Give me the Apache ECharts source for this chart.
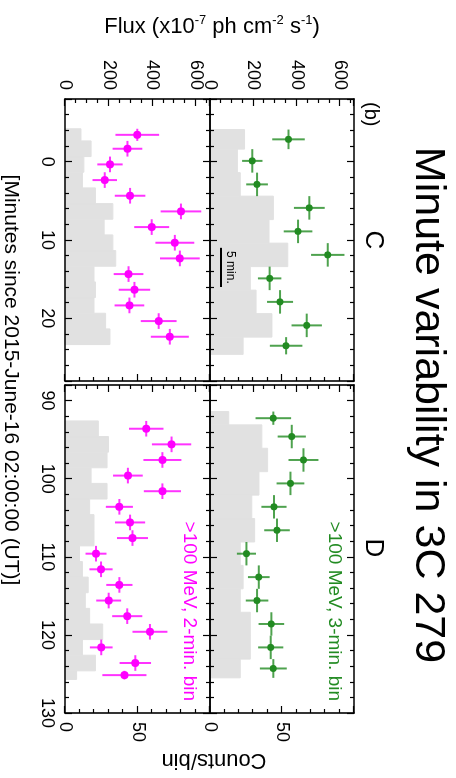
<!DOCTYPE html>
<html><head><meta charset="utf-8">
<script src="https://cdn.jsdelivr.net/npm/echarts@6/dist/echarts.min.js"></script>
<style>
html,body{margin:0;padding:0;background:#fff;overflow:hidden;width:456px;height:778px}
#wrap{position:absolute;left:0;top:0;width:778px;height:456px;transform-origin:0 0;transform:translate(456px,0) rotate(90deg)}
#chart{width:778px;height:456px;background:#fff}
</style></head>
<body><div id="wrap"><div id="chart"></div></div>
<script>
// ---------------- data ----------------
// Panel C, >100 MeV, 3-min bins (green): bin edges [min], counts/bin, flux, flux error
const greenC_edges = [-4.1, -1.6, 1.4, 4.4, 7.4, 10.4, 13.4, 16.4, 19.4, 22.4, 24.6];
const greenC_counts = [24, 19, 21, 44, 41, 54, 28, 32, 43, 23];
const greenC_flux = [362, 195, 217, 458, 406, 543, 275, 323, 446, 351];
const greenC_fluxErr = [75, 47, 50, 71, 66, 77, 54, 60, 70, 75];
// Panel D, 3-min bins (green)
const greenD_edges = [91.4, 93.1, 96.1, 99.1, 102.1, 105.1, 108.1, 111.1, 114.1, 117.1, 120.1, 123.1, 125.5];
const greenD_counts = [13, 36, 40, 34, 29, 31, 21, 23, 21, 28, 28, 21];
const greenD_flux = [292, 377, 431, 371, 295, 309, 168, 225, 217, 283, 280, 292];
const greenD_fluxErr = [82, 65, 69, 64, 58, 59, 44, 50, 52, 59, 58, 62];
// Panel C, 2-min bins (magenta)
const magC_edges = [-4.2, -2.65, -0.65, 1.35, 3.35, 5.35, 7.35, 9.35, 11.35, 13.35, 15.35, 17.35, 19.35, 21.35, 23.35];
const magC_counts = [11, 18, 13, 12, 21, 33, 27, 33, 35, 20, 21, 20, 28, 31];
const magC_flux = [331, 286, 206, 182, 298, 531, 397, 503, 526, 291, 318, 295, 429, 480];
const magC_fluxErr = [100, 68, 58, 56, 70, 93, 80, 89, 91, 68, 72, 68, 82, 87];
// Panel D, 2-min bins (magenta)
const magD_edges = [92.6, 94.6, 96.6, 98.6, 100.6, 102.6, 104.6, 106.6, 108.6, 110.6, 112.6, 114.6, 116.6, 118.6, 120.6, 122.6, 124.6, 125.7];
const magD_counts = [23, 30, 29, 18, 29, 17, 20, 20, 10, 12, 16, 14, 17, 26, 12, 21, 8];
const magD_flux = [372, 488, 446, 288, 446, 249, 298, 309, 142, 165, 249, 200, 285, 389, 166, 322, 272];
const magD_fluxErr = [79, 90, 87, 68, 85, 62, 69, 71, 48, 53, 60, 57, 69, 80, 52, 72, 101];

// axes ranges and tick labels
const rangeC = [-8, 28];
const rangeD = [88, 130];
const fluxRange = [0, 664];
const countsRange = [0, 100];
const timeLabels = [0, 10, 20, 90, 100, 110, 120, 130];
const fluxLabels = [0, 200, 400, 600];
const countLabels = [0, 50];
const scaleBar = [[11, 8], [16, 8]]; // "5 min." bar (minutes, counts)

// ---------------- styling ----------------
const FONT = '"Liberation Sans", Arial, Helvetica, sans-serif';
const GREEN = '#228b22';
const MAGENTA = '#ff00ff';
const GRAY = '#e1e1e1';

function bins(edges, counts) { return counts.map((c, i) => [edges[i], edges[i + 1], c]); }
function points(edges, flux, err) {
  return flux.map((f, i) => [(edges[i] + edges[i + 1]) / 2, f, (edges[i + 1] - edges[i]) / 2, err[i]]);
}

const grids = [
  { left: 99, top: 102, width: 282, height: 144 },   // green C
  { left: 385, top: 102, width: 328, height: 144 },  // green D
  { left: 99, top: 246, width: 282, height: 145 },   // magenta C
  { left: 385, top: 246, width: 328, height: 145 }   // magenta D
].map(g => Object.assign({ containLabel: false, outerBoundsMode: 'none' }, g));

const axisLine = { show: true, onZero: false, lineStyle: { color: '#000', width: 1.6 } };
function xAx(grid, range, pos, labels) {
  return {
    type: 'value', gridIndex: grid, position: pos, min: range[0], max: range[1],
    minInterval: 10, maxInterval: 10, z: 10,
    axisLine: axisLine,
    axisTick: { show: true, inside: true, length: 7, lineStyle: { color: '#000', width: 1.2 } },
    minorTick: { show: true, splitNumber: 5, length: 4, lineStyle: { color: '#000', width: 1.2 } },
    splitLine: { show: false },
    axisLabel: {
      show: labels, margin: 9, color: '#000', fontSize: 18, fontFamily: FONT,
      formatter: v => (timeLabels.indexOf(v) >= 0 ? String(v) : '')
    }
  };
}
function fluxAx(grid, labels) {
  return {
    type: 'value', gridIndex: grid, position: 'left', min: fluxRange[0], max: fluxRange[1],
    minInterval: 200, maxInterval: 200, z: 10,
    axisLine: axisLine,
    axisTick: { show: true, inside: true, length: 7, lineStyle: { color: '#000', width: 1.2 } },
    minorTick: { show: true, splitNumber: 4, length: 4, lineStyle: { color: '#000', width: 1.2 } },
    splitLine: { show: false },
    axisLabel: {
      show: labels, margin: 9, color: '#000', fontSize: 18, fontFamily: FONT,
      formatter: v => (fluxLabels.indexOf(v) >= 0 ? String(v) : '')
    }
  };
}
function countAx(grid, labels) {
  return {
    type: 'value', gridIndex: grid, position: 'right', min: countsRange[0], max: countsRange[1],
    interval: 50, z: 10,
    axisLine: axisLine,
    axisTick: { show: true, inside: true, length: 7, lineStyle: { color: '#000', width: 1.2 } },
    minorTick: { show: true, splitNumber: 5, length: 4, lineStyle: { color: '#000', width: 1.2 } },
    splitLine: { show: false },
    axisLabel: {
      show: labels, margin: 9, color: '#000', fontSize: 18, fontFamily: FONT,
      formatter: v => (countLabels.indexOf(v) >= 0 ? String(v) : '')
    }
  };
}

const xAxes = [
  xAx(0, rangeC, 'bottom', false), xAx(0, rangeC, 'top', false),
  xAx(1, rangeD, 'bottom', false), xAx(1, rangeD, 'top', false),
  xAx(2, rangeC, 'bottom', true), xAx(2, rangeC, 'top', false),
  xAx(3, rangeD, 'bottom', true), xAx(3, rangeD, 'top', false)
];
const yAxes = [
  fluxAx(0, true), countAx(0, false),
  fluxAx(1, false), countAx(1, true),
  fluxAx(2, true), countAx(2, false),
  fluxAx(3, false), countAx(3, true)
];

function histSeries(p, edges, counts, extra) {
  return Object.assign({
    type: 'custom', xAxisIndex: 2 * p, yAxisIndex: 2 * p + 1, z: 1,
    data: bins(edges, counts),
    encode: { x: [0, 1], y: 2 },
    renderItem: function (params, api) {
      const a = api.coord([api.value(0), api.value(2)]);
      const b = api.coord([api.value(1), 0]);
      return { type: 'rect', shape: { x: a[0], y: a[1], width: b[0] - a[0], height: b[1] - a[1] },
               style: { fill: GRAY, stroke: GRAY, lineWidth: 1 } };
    }
  }, extra || {});
}
function errSeries(p, edges, flux, err, color) {
  return {
    type: 'custom', xAxisIndex: 2 * p, yAxisIndex: 2 * p, z: 3,
    data: points(edges, flux, err),
    encode: { x: 0, y: 1 },
    renderItem: function (params, api) {
      const t = api.value(0), f = api.value(1), dt = api.value(2), df = api.value(3);
      const a = api.coord([t - dt, f]), b = api.coord([t + dt, f]);
      const c = api.coord([t, f - df]), d = api.coord([t, f + df]);
      const st = { stroke: color, lineWidth: 2, opacity: 0.8 };
      return { type: 'group', children: [
        { type: 'line', shape: { x1: a[0], y1: a[1], x2: b[0], y2: b[1] }, style: st },
        { type: 'line', shape: { x1: c[0], y1: c[1], x2: d[0], y2: d[1] }, style: st }
      ] };
    }
  };
}
function dotSeries(p, edges, flux, err, color, size) {
  return {
    type: 'scatter', xAxisIndex: 2 * p, yAxisIndex: 2 * p, z: 4,
    data: points(edges, flux, err).map(d => [d[0], d[1]]),
    symbol: 'circle', symbolSize: size,
    itemStyle: { color: color, opacity: 1 }
  };
}

const series = [
  histSeries(0, greenC_edges, greenC_counts, {
    markLine: {
      silent: true, symbol: ['none', 'none'], animation: false,
      lineStyle: { color: '#000', width: 2, type: 'solid' },
      label: { show: true, position: 'middle', formatter: '5 min.', color: '#000', fontSize: 12, fontFamily: FONT, distance: 3 },
      data: [[{ coord: scaleBar[0] }, { coord: scaleBar[1] }]]
    }
  }),
  histSeries(1, greenD_edges, greenD_counts),
  histSeries(2, magC_edges, magC_counts),
  histSeries(3, magD_edges, magD_counts),
  errSeries(0, greenC_edges, greenC_flux, greenC_fluxErr, GREEN),
  errSeries(1, greenD_edges, greenD_flux, greenD_fluxErr, GREEN),
  errSeries(2, magC_edges, magC_flux, magC_fluxErr, MAGENTA),
  errSeries(3, magD_edges, magD_flux, magD_fluxErr, MAGENTA),
  dotSeries(0, greenC_edges, greenC_flux, greenC_fluxErr, GREEN, 7),
  dotSeries(1, greenD_edges, greenD_flux, greenD_fluxErr, GREEN, 7),
  dotSeries(2, magC_edges, magC_flux, magC_fluxErr, MAGENTA, 8),
  dotSeries(3, magD_edges, magD_flux, magD_fluxErr, MAGENTA, 8)
];

function txt(x, y, text, size, color, align, vAlign, rot, rich) {
  const st = { text: text, fill: color, font: size + 'px ' + FONT, fontSize: size, fontFamily: FONT,
    textAlign: align, align: align, textVerticalAlign: vAlign, verticalAlign: vAlign };
  if (rich) st.rich = rich;
  return { type: 'text', x: x, y: y, rotation: rot || 0, z: 100, style: st };
}
const supRich = {
  a: { fontSize: 22, fontFamily: FONT, fill: '#000', color: '#000', lineHeight: 24, verticalAlign: 'bottom' },
  s: { fontSize: 13, fontFamily: FONT, fill: '#000', color: '#000', lineHeight: 24, verticalAlign: 'top' }
};

const graphic = [
  txt(405, 28, 'Minute variability in 3C 279', 43, '#000', 'center', 'middle'),
  txt(102, 85, '(b)', 20, '#000', 'left', 'middle'),
  txt(240, 83, 'C', 26, '#000', 'center', 'middle'),
  txt(548, 83, 'D', 26, '#000', 'center', 'middle'),
  txt(701, 122, '>100 MeV, 3-min. bin', 19, GREEN, 'right', 'middle'),
  txt(701, 267, '>100 MeV, 2-min. bin', 19, MAGENTA, 'right', 'middle'),
  txt(380, 445, '[Minutes since 2015-June-16 02:00:00 (UT)]', 21, '#000', 'center', 'middle'),
  txt(760, 242, 'Counts/bin', 22, '#000', 'center', 'middle', -Math.PI / 2),
  txt(26, 244, '{a|Flux (x10}{s|-7}{a| ph cm}{s|-2}{a| s}{s|-1}{a|)}', 22, '#000', 'center', 'middle', Math.PI / 2, supRich)
];

const chart = echarts.init(document.getElementById('chart'), null, { renderer: 'canvas' });
chart.setOption({
  animation: false,
  backgroundColor: '#fff',
  textStyle: { fontFamily: FONT },
  grid: grids,
  xAxis: xAxes,
  yAxis: yAxes,
  series: series,
  graphic: graphic
});
</script>
</body></html>
